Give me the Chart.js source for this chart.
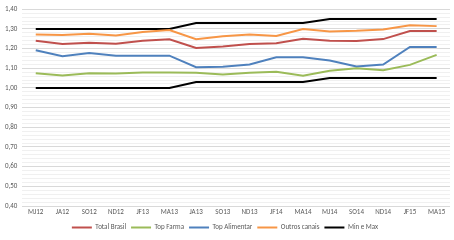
<!DOCTYPE html>
<html>
<head>
<meta charset="utf-8">
<script src="https://cdn.jsdelivr.net/npm/chart.js@4/dist/chart.umd.min.js"></script>
<style>
  html, body { margin: 0; padding: 0; background: #fff; }
  #wrap { width: 454px; height: 240px; }
</style>
</head>
<body>
<div id="wrap"><canvas id="chart" width="454" height="240"></canvas></div>
<script>
// Periods (bimesters)
const categories = ['MJ12', 'JA12', 'SO12', 'ND12', 'JF13', 'MA13', 'JA13', 'SO13', 'ND13', 'JF14', 'MA14', 'MJ14', 'SO14', 'ND14', 'JF15', 'MA15'];

// Series values
const totalBrasil   = [1.240, 1.223, 1.230, 1.225, 1.240, 1.247, 1.203, 1.210, 1.223, 1.227, 1.250, 1.240, 1.238, 1.248, 1.289, 1.289];
const topFarma      = [1.075, 1.063, 1.075, 1.073, 1.078, 1.078, 1.077, 1.068, 1.077, 1.082, 1.062, 1.087, 1.100, 1.090, 1.117, 1.168];
const topAlimentar  = [1.191, 1.161, 1.178, 1.163, 1.164, 1.164, 1.105, 1.107, 1.119, 1.156, 1.156, 1.139, 1.109, 1.119, 1.208, 1.208];
const outrosCanais  = [1.272, 1.269, 1.275, 1.267, 1.284, 1.294, 1.247, 1.262, 1.272, 1.264, 1.299, 1.287, 1.290, 1.297, 1.319, 1.314];
const maxBand       = [1.30, 1.30, 1.30, 1.30, 1.30, 1.30, 1.33, 1.33, 1.33, 1.33, 1.33, 1.35, 1.35, 1.35, 1.35, 1.35];
const minBand       = [1.00, 1.00, 1.00, 1.00, 1.00, 1.00, 1.03, 1.03, 1.03, 1.03, 1.03, 1.05, 1.05, 1.05, 1.05, 1.05];

// Axis range
const yMin = 0.4;
const yMax = 1.4;
const yStep = 0.02;

const fontFamily = 'Carlito, Calibri, "Liberation Sans", sans-serif';

function isMajor(v) {
    return Math.abs(v * 10 - Math.round(v * 10)) < 1e-6;
}

function series(label, data, color, hideLegend) {
    return {
        label: label,
        data: data,
        borderColor: color,
        backgroundColor: color,
        borderWidth: 2,
        pointRadius: 0,
        pointHoverRadius: 0,
        pointStyle: 'line',
        tension: 0,
        fill: false,
        hideLegend: hideLegend
    };
}

const datasets = [
    series('Total Brasil', totalBrasil, '#C0504D'),
    series('Top Farma', topFarma, '#9BBB59'),
    series('Top Alimentar', topAlimentar, '#4F81BD'),
    series('Outros canais', outrosCanais, '#F79646'),
    series('Min e Max', maxBand, '#000000'),
    series('Min e Max', minBand, '#000000', true)
];

new Chart(document.getElementById('chart'), {
    type: 'line',
    data: { labels: categories, datasets: datasets },
    options: {
        responsive: false,
        animation: false,
        layout: { padding: { top: 1, right: 4, left: 0, bottom: -1 } },
        plugins: {
            tooltip: { enabled: false },
            legend: {
                position: 'bottom',
                labels: {
                    color: '#595959',
                    font: { family: fontFamily, size: 7 },
                    usePointStyle: true,
                    pointStyleWidth: 20,
                    boxHeight: 6,
                    padding: 5,
                    filter: (item, data) => !data.datasets[item.datasetIndex].hideLegend
                }
            }
        },
        scales: {
            x: {
                offset: true,
                grid: { display: false, drawTicks: false },
                border: { display: false },
                ticks: {
                    color: '#595959',
                    font: { family: fontFamily, size: 7, lineHeight: 1 },
                    maxRotation: 0,
                    autoSkip: false,
                    padding: 3
                }
            },
            y: {
                min: yMin,
                max: yMax,
                border: { display: false },
                grid: {
                    drawTicks: false,
                    color: ctx => isMajor(ctx.tick.value) ? '#d9d9d9' : '#f0f0f0',
                    lineWidth: 1
                },
                ticks: {
                    stepSize: yStep,
                    autoSkip: false,
                    color: '#595959',
                    font: { family: fontFamily, size: 7 },
                    padding: 5,
                    callback: v => isMajor(v) ? v.toFixed(2).replace('.', ',') : ''
                }
            }
        }
    }
});
</script>
</body>
</html>
